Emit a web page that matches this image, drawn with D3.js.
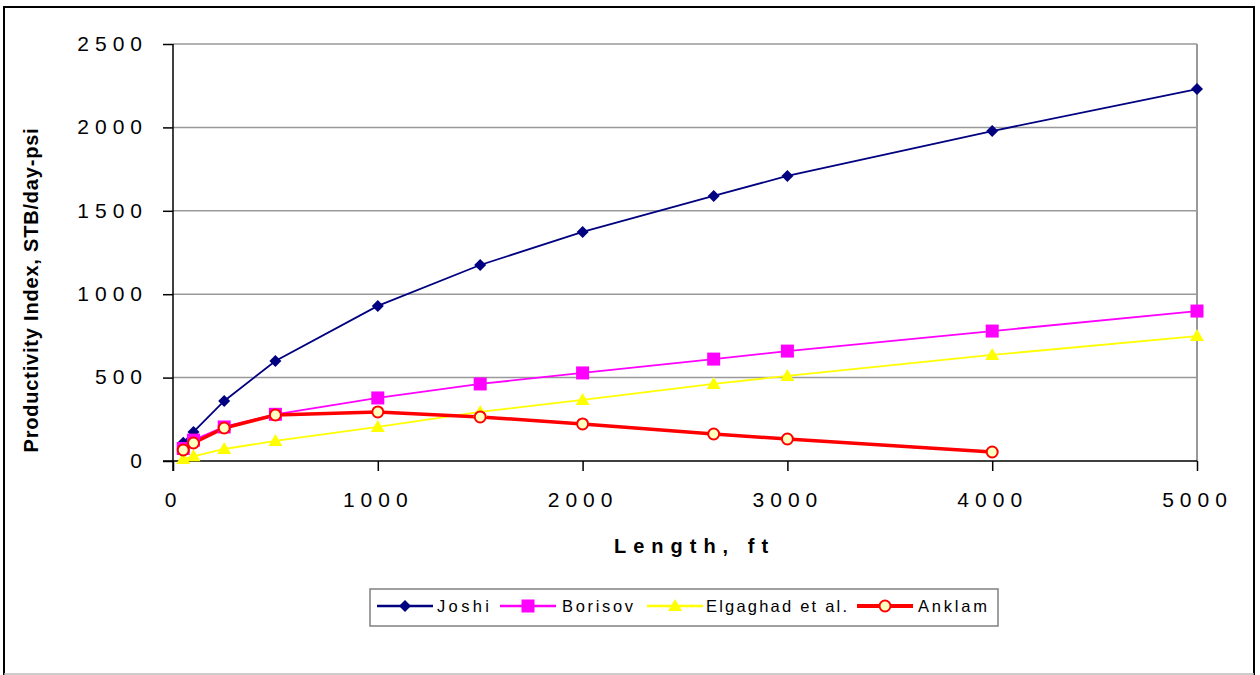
<!DOCTYPE html>
<html><head><meta charset="utf-8">
<script src="https://cdn.jsdelivr.net/npm/d3@7"></script>
<style>body{margin:0;background:#fff}svg{display:block;font-family:"Liberation Sans",Arial,sans-serif}</style>
</head><body><svg id="c" width="1260" height="675"></svg>
<script>
const xTicks = [0,1000,2000,3000,4000,5000];
const yTicks = [0,500,1000,1500,2000,2500];
const joshiX = [50,100,250,500,1000,1500,2000,2640,3000,4000,5000];
const joshiY = [110,174,360,600,930,1175,1373,1589,1709,1978,2230];
const borisovX = [50,100,250,500,1000,1500,2000,2640,3000,4000,5000];
const borisovY = [75,125,204,280,378,462,528,611,659,779,899];
const elgX = [50,100,250,500,1000,1500,2000,2640,3000,4000,5000];
const elgY = [12,28,72,120,204,294,366,462,510,636,749];
const anklamX = [50,100,250,500,1000,1500,2000,2640,3000,4000];
const anklamY = [66,108,198,276,294,264,222,162,132,54];
const seriesNames = ["Joshi","Borisov","Elgaghad et al.","Anklam"];

const svg = d3.select("#c");
const L=173,R=1197,T=44,B=461;
const x = d3.scaleLinear().domain([0,5000]).range([L,R]);
const y = d3.scaleLinear().domain([0,2500]).range([B,T]);

// outer frame
svg.append("path").attr("d","M4,676 V7 H1254 V676").attr("fill","none").attr("stroke","#000").attr("stroke-width",2);
svg.append("line").attr("x1",4).attr("x2",1254).attr("y1",674).attr("y2",674).attr("stroke","#bbb").attr("stroke-width",1.5);

// gridlines
svg.append("g").selectAll("line").data(yTicks.filter(d=>d>0)).join("line")
 .attr("x1",L).attr("x2",R).attr("y1",d=>y(d)).attr("y2",d=>y(d)).attr("stroke","#999").attr("stroke-width",1.5);
svg.append("line").attr("x1",R).attr("x2",R).attr("y1",T).attr("y2",B).attr("stroke","#999").attr("stroke-width",2);

// axes
const LS = 6;
const xa = svg.append("g").attr("transform",`translate(0,${B})`).call(d3.axisBottom(x).tickValues(xTicks).tickSize(10).tickSizeOuter(0).tickPadding(21).tickFormat(d3.format("d")));
const ya = svg.append("g").attr("transform",`translate(${L},0)`).call(d3.axisLeft(y).tickValues(yTicks).tickSize(10).tickSizeOuter(0).tickPadding(15).tickFormat(d3.format("d")));
[xa,ya].forEach(a=>{a.select(".domain").attr("stroke","#000").attr("stroke-width",1.5);
 a.selectAll(".tick line").attr("stroke","#000").attr("stroke-width",1.5);
 a.selectAll("text").attr("font-size",21).attr("fill","#000").attr("letter-spacing",LS+"px").attr("font-family","Liberation Sans, Arial, sans-serif");});
xa.select(".domain").attr("d",`M${L-10},0H${R}`);
ya.select(".domain").attr("d",`M0,${B+10}V${T}`);
xa.selectAll("text").attr("dy","0.71em");
ya.selectAll("text").attr("dy","0.3em");

// axis titles
svg.append("text").attr("x",691+3.5).attr("y",553).attr("text-anchor","middle").attr("font-size",20).attr("font-weight","bold").attr("letter-spacing","7px").text("Length, ft");
svg.append("text").attr("transform",`translate(38,290) rotate(-90)`).attr("text-anchor","middle").attr("font-size",20).attr("font-weight","bold").attr("letter-spacing","0.8px").text("Productivity Index, STB/day-psi");

const line = d3.line().x(d=>x(d[0])).y(d=>y(d[1]));
const zip = (a,b)=>a.map((v,i)=>[v,b[i]]);
const S = [
 {name:seriesNames[0],data:zip(joshiX,joshiY),color:"#000080",w:1.8,marker:"diamond"},
 {name:seriesNames[1],data:zip(borisovX,borisovY),color:"#ff00ff",w:1.8,marker:"square"},
 {name:seriesNames[2],data:zip(elgX,elgY),color:"#ffff00",w:1.8,marker:"triangle"},
 {name:seriesNames[3],data:zip(anklamX,anklamY),color:"#ff0000",w:3.5,marker:"circle"}
];
function marker(g,s,cx,cy){
 if(s.marker==="diamond") g.append("path").attr("d",`M${cx},${cy-6}L${cx+6},${cy}L${cx},${cy+6}L${cx-6},${cy}Z`).attr("fill",s.color);
 else if(s.marker==="square") g.append("rect").attr("x",cx-6.5).attr("y",cy-6.5).attr("width",13).attr("height",13).attr("fill",s.color);
 else if(s.marker==="triangle") g.append("path").attr("d",`M${cx},${cy-7}L${cx+7},${cy+5}L${cx-7},${cy+5}Z`).attr("fill",s.color);
 else g.append("circle").attr("cx",cx).attr("cy",cy).attr("r",5.5).attr("fill","#ffffc0").attr("stroke",s.color).attr("stroke-width",2);
}
const plot = svg.append("g");
S.forEach(s=>{
 plot.append("path").datum(s.data).attr("d",line).attr("fill","none").attr("stroke",s.color).attr("stroke-width",s.w);
});
S.forEach(s=>{ const g=plot.append("g"); s.data.forEach(d=>marker(g,s,x(d[0]),y(d[1]))); });

// legend
const lg = svg.append("g");
lg.append("rect").attr("x",370).attr("y",589).attr("width",628).attr("height",37).attr("fill","#fff").attr("stroke","#808080").attr("stroke-width",1.5);
const legLineX = [377,500,647,857];
const legTextX = [437,562,706,918];
const legTextW = [52,71,141,69];
S.forEach((s,i)=>{
 const x0=legLineX[i], len=56, cy=606;
 lg.append("line").attr("x1",x0).attr("x2",x0+len).attr("y1",cy).attr("y2",cy).attr("stroke",s.color).attr("stroke-width",s.w+0.7);
 marker(lg,s,x0+len/2,cy);
 lg.append("text").attr("x",legTextX[i]).attr("y",cy+6).attr("font-size",16.5).attr("textLength",legTextW[i]).attr("lengthAdjust","spacing").text(s.name);
});
</script></body></html>
